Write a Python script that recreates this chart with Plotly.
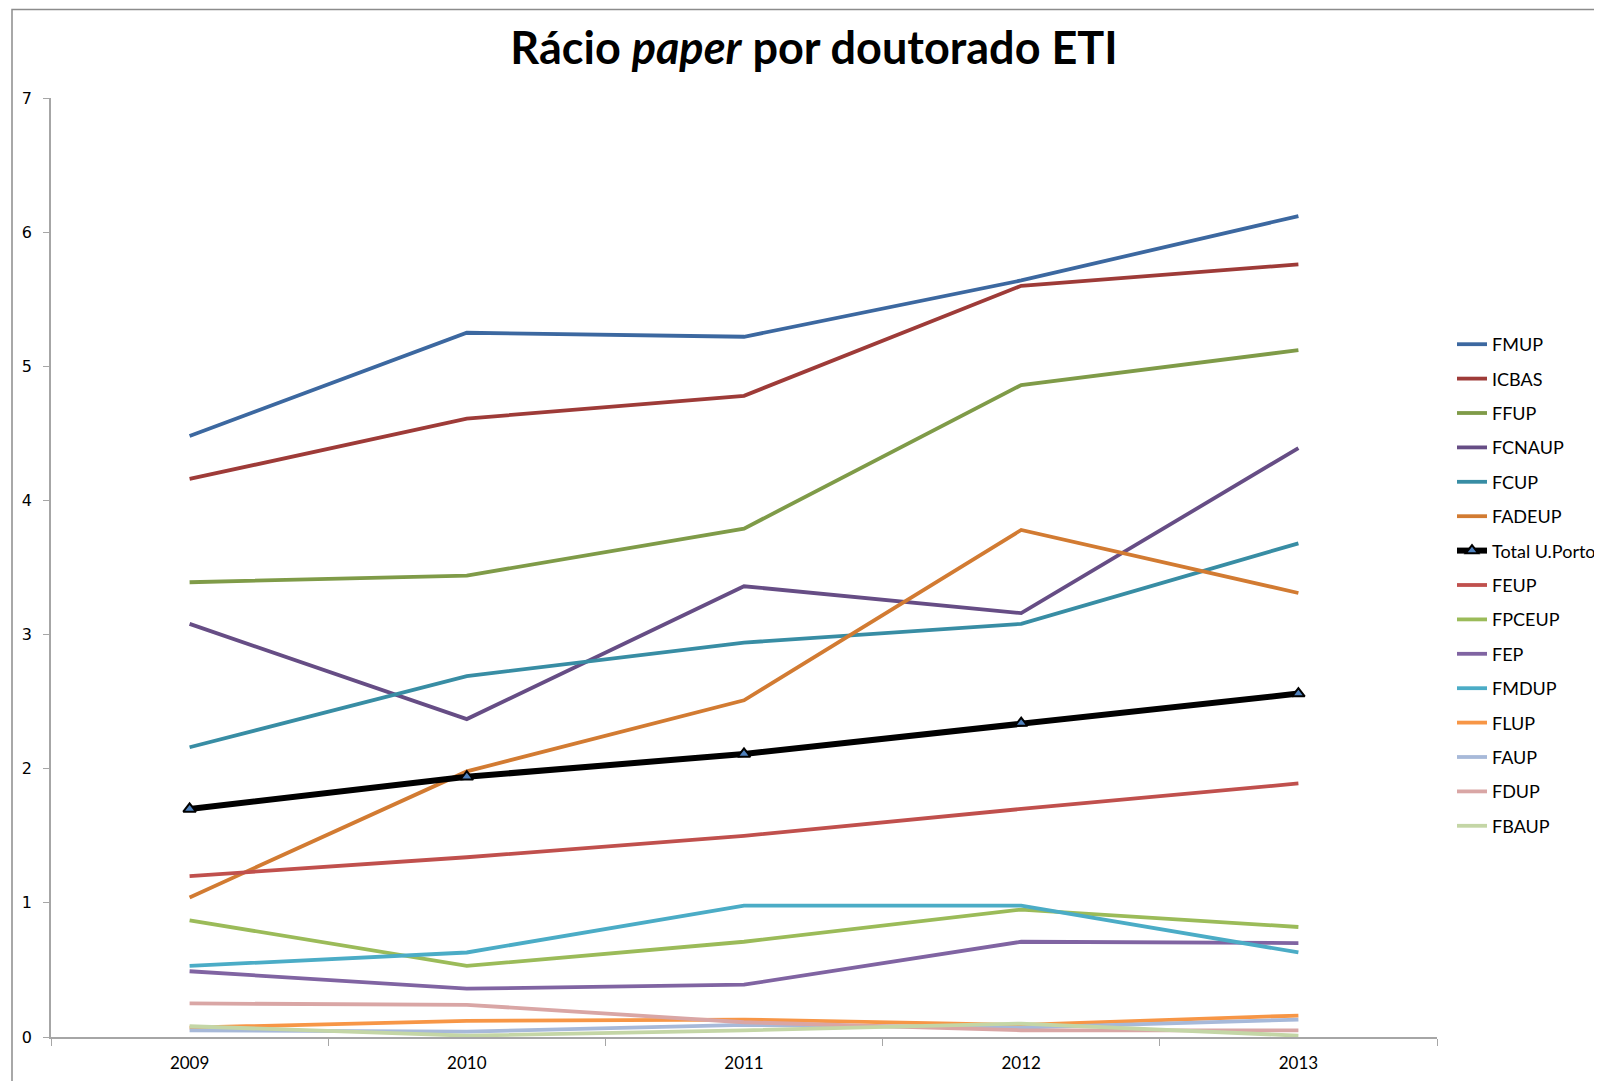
import plotly.graph_objects as go

years = ["2009", "2010", "2011", "2012", "2013"]

FMUP   = [4.48, 5.25, 5.22, 5.64, 6.12]
ICBAS  = [4.16, 4.61, 4.78, 5.60, 5.76]
FFUP   = [3.39, 3.44, 3.79, 4.86, 5.12]
FCNAUP = [3.08, 2.37, 3.36, 3.16, 4.39]
FCUP   = [2.16, 2.69, 2.94, 3.08, 3.68]
FADEUP = [1.04, 1.98, 2.51, 3.78, 3.31]
TOTAL  = [1.70, 1.94, 2.11, 2.34, 2.56]
FEUP   = [1.20, 1.34, 1.50, 1.70, 1.89]
FPCEUP = [0.87, 0.53, 0.71, 0.95, 0.82]
FEP    = [0.49, 0.36, 0.39, 0.71, 0.70]
FMDUP  = [0.53, 0.63, 0.98, 0.98, 0.63]
FLUP   = [0.07, 0.12, 0.13, 0.09, 0.16]
FAUP   = [0.05, 0.04, 0.09, 0.07, 0.13]
FDUP   = [0.25, 0.24, 0.11, 0.05, 0.05]
FBAUP  = [0.08, 0.01, 0.05, 0.10, 0.01]

series_names = ["FMUP", "ICBAS", "FFUP", "FCNAUP", "FCUP", "FADEUP", "Total U.Porto",
                "FEUP", "FPCEUP", "FEP", "FMDUP", "FLUP", "FAUP", "FDUP", "FBAUP"]
series_vals = [FMUP, ICBAS, FFUP, FCNAUP, FCUP, FADEUP, TOTAL,
               FEUP, FPCEUP, FEP, FMDUP, FLUP, FAUP, FDUP, FBAUP]
colors = ["#3C68A0", "#9E3B38", "#7F9B48", "#664D85", "#388DA4", "#D27B32", "#000000",
          "#C0504D", "#9BBB59", "#8064A2", "#4BACC6", "#F79646", "#A7B9D9", "#D9A6A5", "#C4D6A6"]

# page body has an 8px margin; figure is placed at (8, 8)
OFF = 8
W, H = 1602 - OFF, 1081 - OFF
L, R, T, B = 51 - OFF, 1437 - OFF, 98 - OFF, 1037 - OFF

fig = go.Figure()
for i, (name, vals, col) in enumerate(zip(series_names, series_vals, colors)):
    if name == "Total U.Porto":
        fig.add_trace(go.Scatter(
            x=years, y=vals, name=name, mode="lines+markers",
            line=dict(color=col, width=6),
            marker=dict(symbol="triangle-up", size=11, color="#4F81BD",
                        line=dict(color="#000000", width=2)),
            legendgroup=name))
    else:
        fig.add_trace(go.Scatter(
            x=years, y=vals, name=name, mode="lines",
            line=dict(color=col, width=3.8),
            legendgroup=name))

def px_x(px):
    return (px - OFF - L) / (R - L)

def px_y(py):
    return (B - (py - OFF)) / (B - T)

fig.add_shape(type="rect", xref="paper", yref="paper",
              x0=px_x(12), x1=px_x(1700), y0=px_y(1200), y1=px_y(9.5),
              line=dict(color="#8C8C8C", width=1.5), layer="below")

fig.update_layout(
    width=W, height=H,
    margin=dict(l=L, r=W - R, t=T, b=H - B, autoexpand=False),
    paper_bgcolor="white", plot_bgcolor="white",
    title=dict(text="<b>Rácio <i>paper</i> por doutorado ETI</b>",
               font=dict(family="Lato", size=45, color="#000000"),
               x=(814 - OFF) / W, xref="container", xanchor="center",
               y=1 - (48 - OFF) / H, yref="container", yanchor="middle"),
    showlegend=True,
    legend=dict(x=px_x(1452), xanchor="left", y=px_y(326), yanchor="top",
                font=dict(family="Lato", size=18, color="#000000"),
                tracegroupgap=8, itemwidth=30, bgcolor="rgba(0,0,0,0)",
                traceorder="grouped"),
    xaxis=dict(type="category", range=[-0.5, 4.5], showgrid=False,
               showline=True, linecolor="#A6A6A6", linewidth=1.5,
               ticks="outside", tickson="boundaries", ticklen=7, tickcolor="#A6A6A6",
               ticklabelstandoff=10,
               tickfont=dict(family="Lato", size=17, color="#000000"),
               zeroline=False),
    yaxis=dict(range=[0, 7], dtick=1, showgrid=False,
               showline=True, linecolor="#A6A6A6", linewidth=1.5,
               ticks="outside", ticklen=6, tickcolor="#A6A6A6",
               ticklabelstandoff=8,
               tickfont=dict(family="DejaVu Sans", size=16, color="#000000"),
               zeroline=False),
)

fig.write_html("out.html")
